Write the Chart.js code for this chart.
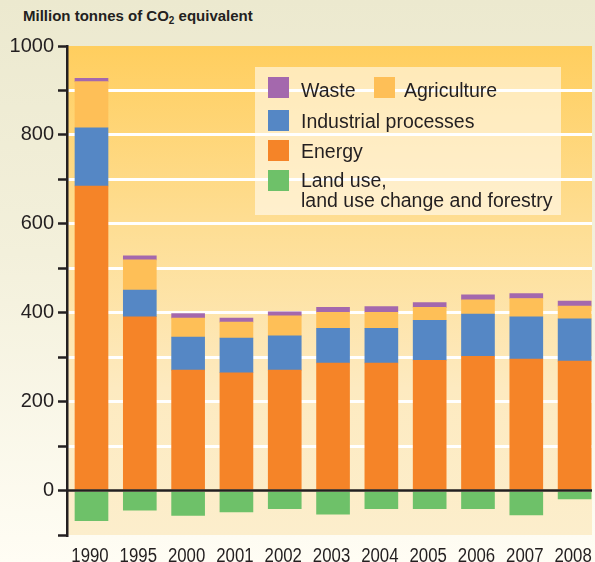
<!DOCTYPE html>
<html>
<head>
<meta charset="utf-8">
<script src="https://cdn.jsdelivr.net/npm/chart.js@4.4.1/dist/chart.umd.min.js"></script>
<style>
    html, body {
        margin: 0;
        padding: 0;
    }

    body {
        width: 595px;
        height: 562px;
        overflow: hidden;
        position: relative;
        background: linear-gradient(to bottom, #ECE9CF 0%, #F3F0DB 45%, #FFFDF4 100%);
        font-family: "Liberation Sans", Arial, sans-serif;
    }

    #title {
        position: absolute;
        left: 23px;
        top: 7px;
        font-weight: bold;
        font-size: 15px;
        color: #231f20;
        white-space: nowrap;
    }

    #title sub {
        font-size: 10px;
        vertical-align: -3px;
        line-height: 0;
    }

    canvas {
        position: absolute;
        left: 0;
        top: 0;
    }
</style>
</head>
<body>

<div id="title">Million tonnes of CO<sub>2</sub> equivalent</div>
<canvas id="chart" width="595" height="562"></canvas>

<script>
// ---------------- DATA ----------------
const years = ["1990", "1995", "2000", "2001", "2002", "2003", "2004", "2005", "2006", "2007", "2008"];

const energy      = [685, 391, 271, 265, 271, 287, 287, 293, 302, 296, 291];
const industrial  = [131,  60,  74,  78,  77,  78,  78,  90,  95,  95,  95];
const agriculture = [104,  68,  43,  36,  45,  36,  36,  29,  32,  41,  29];
const waste       = [  7,   9,  10,   9,   9,  11,  13,  11,  11,  11,  11];
const landUse     = [-68, -44, -56, -48, -41, -53, -41, -41, -41, -55, -19];

const yTicks = [0, 200, 400, 600, 800, 1000];

// ---------------- COLOURS ----------------
const colors = {
    energy: "#F58428",
    industrial: "#5587C5",
    agriculture: "#FEBF57",
    waste: "#A468AD",
    landUse: "#6EC169"
};

const textColor = "#231f20";

function toPoints(values) {
    return values.map((v, i) => ({ x: i, y: v }));
}

// ---------------- PLUGINS ----------------
const plotBackground = {
    id: "plotBackground",

    beforeDraw(chart) {
        const { ctx, chartArea: a } = chart;

        const g = ctx.createLinearGradient(0, a.top, 0, a.bottom);
        g.addColorStop(0, "#FFCE5E");
        g.addColorStop(0.35, "#FEDD91");
        g.addColorStop(0.7, "#FDEAC0");
        g.addColorStop(1, "#FCEECC");

        ctx.save();
        ctx.fillStyle = g;
        ctx.fillRect(a.left, a.top, a.right - a.left, a.bottom - a.top);
        ctx.restore();
    }
};

const zeroLine = {
    id: "zeroLine",

    afterDatasetsDraw(chart) {
        const { ctx, chartArea: a } = chart;
        const y = chart.scales.y.getPixelForValue(0);

        ctx.save();
        ctx.strokeStyle = textColor;
        ctx.lineWidth = 2.5;
        ctx.beginPath();
        ctx.moveTo(a.left, y);
        ctx.lineTo(a.right, y);
        ctx.stroke();
        ctx.restore();
    }
};

// year labels are set in a narrow face: squeeze the normal one
const narrowYears = {
    id: "narrowYears",

    afterDraw(chart) {
        const ctx = chart.ctx;
        const xScale = chart.scales.x;

        ctx.save();
        ctx.font = "20px 'Liberation Sans', Arial, sans-serif";
        ctx.fillStyle = textColor;
        ctx.textAlign = "center";
        ctx.textBaseline = "alphabetic";

        years.forEach((label, i) => {
            const x = xScale.getPixelForValue(i) - 1.5;
            ctx.save();
            ctx.translate(x, 561.5);
            ctx.scale(0.84, 1);
            ctx.fillText(label, 0, 0);
            ctx.restore();
        });

        ctx.restore();
    }
};

const boxLegend = {
    id: "boxLegend",

    afterDraw(chart) {
        const ctx = chart.ctx;

        ctx.save();

        // box
        ctx.fillStyle = "rgba(255, 255, 255, 0.55)";
        ctx.fillRect(255, 67, 306, 148);

        ctx.font = "19.5px 'Liberation Sans', Arial, sans-serif";
        ctx.fillStyle = textColor;
        ctx.textBaseline = "alphabetic";

        const items = [
            { color: colors.waste,       sx: 268, sy: 77,  tx: 301, lines: ["Waste"], ty: 97 },
            { color: colors.agriculture, sx: 374, sy: 77,  tx: 404, lines: ["Agriculture"], ty: 97 },
            { color: colors.industrial,  sx: 268, sy: 110, tx: 301, lines: ["Industrial processes"], ty: 128 },
            { color: colors.energy,      sx: 268, sy: 140, tx: 301, lines: ["Energy"], ty: 158 },
            { color: colors.landUse,     sx: 268, sy: 170, tx: 301, lines: ["Land use,", "land use change and forestry"], ty: 187 }
        ];

        items.forEach(item => {
            ctx.fillStyle = item.color;
            ctx.fillRect(item.sx, item.sy, 21, 21);

            ctx.fillStyle = textColor;
            item.lines.forEach((line, k) => {
                ctx.fillText(line, item.tx, item.ty + k * 20);
            });
        });

        ctx.restore();
    }
};

// ---------------- CHART ----------------
const ctx = document.getElementById("chart");

const chart = new Chart(ctx, {
    type: "bar",

    data: {
        datasets: [
            { label: "Energy", data: toPoints(energy), backgroundColor: colors.energy },
            { label: "Industrial processes", data: toPoints(industrial), backgroundColor: colors.industrial },
            { label: "Agriculture", data: toPoints(agriculture), backgroundColor: colors.agriculture },
            { label: "Waste", data: toPoints(waste), backgroundColor: colors.waste },
            { label: "Land use, land use change and forestry", data: toPoints(landUse), backgroundColor: colors.landUse }
        ]
    },

    options: {
        responsive: false,
        animation: false,
        devicePixelRatio: 1,

        barThickness: 33,

        layout: {
            padding: { top: 46, right: 3, left: 0, bottom: 0 }
        },

        plugins: {
            legend: { display: false },
            tooltip: { enabled: false }
        },

        scales: {
            x: {
                type: "linear",
                stacked: true,
                offset: false,
                min: -0.507,
                max: 10.36,

                grid: {
                    display: false,
                    drawTicks: false,
                    tickLength: 0
                },

                border: { display: false },

                ticks: {
                    display: false,
                    stepSize: 1,
                    includeBounds: false
                },

                afterFit(scale) {
                    scale.height = 27;
                }
            },

            y: {
                stacked: true,
                min: -100,
                max: 1000,

                grid: {
                    color: (c) => {
                        const v = c.tick ? c.tick.value : null;
                        if (v === 0 || v === 1000 || v === -100) return "rgba(0,0,0,0)";
                        return "#FFFFFF";
                    },
                    lineWidth: 3,
                    tickColor: textColor,
                    tickWidth: 2.5,
                    tickLength: 9
                },

                border: {
                    display: true,
                    color: textColor,
                    width: 2.5
                },

                ticks: {
                    stepSize: 100,
                    padding: 4,
                    color: textColor,
                    font: {
                        family: "'Liberation Sans', Arial, sans-serif",
                        size: 20
                    },
                    callback: (v) => yTicks.includes(v) ? String(v) : ""
                },

                afterFit(scale) {
                    scale.width = 67;
                }
            }
        }
    },

    plugins: [plotBackground, zeroLine, narrowYears, boxLegend]
});
</script>
</body>
</html>
